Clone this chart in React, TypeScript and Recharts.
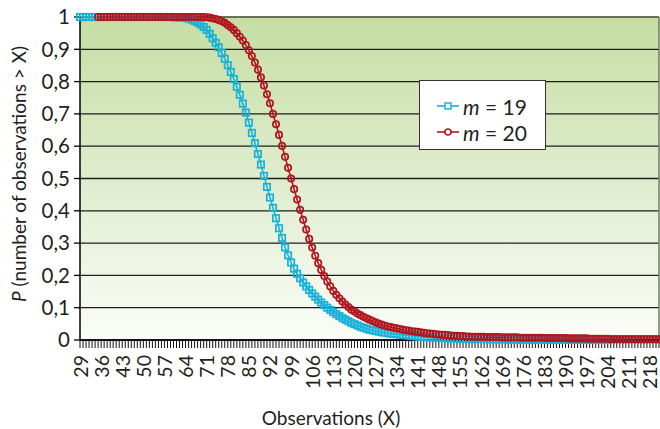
import React from 'react'
import {
  LineChart,
  Line,
  XAxis,
  YAxis,
  CartesianGrid,
  ReferenceLine,
  Legend,
} from 'recharts'

// Observations X, one category per integer from 29 to 221
const FIRST_X = 29
const LAST_X = 221
const CATEGORIES = Array.from({ length: LAST_X - FIRST_X + 1 }, (_, i) => FIRST_X + i)

const M19 = [
  1, 1, 1, 1, 1, 1, 1, 1, 1, 1, // 29-38
  1, 1, 1, 1, 1, 1, 1, 1, 1, 1, // 39-48
  1, 1, 1, 1, 1, 1, 1, 1, 1, 1, // 49-58
  1, 0.999, 0.999, 0.999, 0.998, 0.997, 0.995, 0.992, 0.988, 0.983, // 59-68
  0.977, 0.969, 0.96, 0.948, 0.934, 0.92, 0.906, 0.889, 0.871, 0.851, // 69-78
  0.83, 0.808, 0.784, 0.759, 0.732, 0.704, 0.673, 0.641, 0.609, 0.576, // 79-88
  0.543, 0.508, 0.474, 0.441, 0.409, 0.377, 0.346, 0.316, 0.287, 0.262, // 89-98
  0.24, 0.221, 0.205, 0.191, 0.178, 0.166, 0.155, 0.144, 0.134, 0.125, // 99-108
  0.116, 0.108, 0.1, 0.093, 0.086, 0.08, 0.074, 0.068, 0.063, 0.058, // 109-118
  0.053, 0.049, 0.045, 0.041, 0.038, 0.035, 0.032, 0.03, 0.028, 0.026, // 119-128
  0.024, 0.023, 0.021, 0.02, 0.019, 0.018, 0.017, 0.016, 0.015, 0.014, // 129-138
  0.013, 0.012, 0.011, 0.01, 0.009, 0.009, 0.008, 0.008, 0.007, 0.007, // 139-148
  0.006, 0.006, 0.005, 0.005, 0.005, 0.004, 0.004, 0.004, 0.004, 0.003, // 149-158
  0.003, 0.003, 0.003, 0.003, 0.003, 0.003, 0.002, 0.002, 0.002, 0.002, // 159-168
  0.002, 0.002, 0.001, 0.001, 0.001, 0.001, 0.001, 0.001, 0.001, 0.001, // 169-178
  0.001, 0.001, 0.001, 0.001, 0.001, 0.001, 0.001, 0.001, 0.001, 0.001, // 179-188
  0.001, 0.001, 0.001, 0.001, 0.001, 0.001, 0.001, 0.001, 0.001, 0.001, // 189-198
  0.001, 0.001, 0.001, 0.001, 0.001, 0.001, 0.003, 0.003, 0.003, 0.003, // 199-208
  0.003, 0.003, 0.003, 0.003, 0.003, 0.003, 0.003, 0.003, 0.003, 0.003, // 209-218
  0.003, 0.003, 0.003, // 219-221
]

const M20 = [
  null, null, null, null, null, null, 1, 1, 1, 1, // 29-38
  1, 1, 1, 1, 1, 1, 1, 1, 1, 1, // 39-48
  1, 1, 1, 1, 1, 1, 1, 1, 1, 1, // 49-58
  1, 1, 1, 1, 1, 1, 1, 1, 1, 1, // 59-68
  1, 1, 0.999, 0.998, 0.996, 0.994, 0.991, 0.987, 0.982, 0.975, // 69-78
  0.968, 0.96, 0.95, 0.939, 0.927, 0.913, 0.897, 0.879, 0.859, 0.837, // 79-88
  0.813, 0.788, 0.761, 0.733, 0.7, 0.668, 0.635, 0.601, 0.567, 0.533, // 89-98
  0.5, 0.467, 0.435, 0.403, 0.372, 0.342, 0.313, 0.286, 0.261, 0.238, // 99-108
  0.217, 0.198, 0.181, 0.166, 0.152, 0.14, 0.129, 0.119, 0.11, 0.102, // 109-118
  0.094, 0.088, 0.082, 0.077, 0.072, 0.067, 0.063, 0.059, 0.055, 0.051, // 119-128
  0.048, 0.045, 0.042, 0.04, 0.038, 0.036, 0.034, 0.032, 0.03, 0.029, // 129-138
  0.027, 0.026, 0.025, 0.024, 0.022, 0.021, 0.02, 0.019, 0.018, 0.017, // 139-148
  0.016, 0.016, 0.015, 0.014, 0.013, 0.013, 0.012, 0.012, 0.011, 0.011, // 149-158
  0.01, 0.01, 0.01, 0.01, 0.01, 0.009, 0.009, 0.009, 0.009, 0.009, // 159-168
  0.008, 0.008, 0.008, 0.008, 0.008, 0.008, 0.007, 0.007, 0.007, 0.007, // 169-178
  0.007, 0.007, 0.007, 0.007, 0.006, 0.006, 0.006, 0.006, 0.006, 0.006, // 179-188
  0.006, 0.006, 0.005, 0.005, 0.005, 0.005, 0.005, 0.005, 0.005, 0.004, // 189-198
  0.004, 0.004, 0.004, 0.004, 0.004, 0.004, 0.002, 0.002, 0.002, 0.002, // 199-208
  0.002, 0.002, 0.002, 0.002, 0.002, 0.002, 0.002, 0.002, 0.002, 0.002, // 209-218
  0.002, 0.002, 0.002, // 219-221
]

const Y_TICKS = [0, 0.1, 0.2, 0.3, 0.4, 0.5, 0.6, 0.7, 0.8, 0.9, 1]
const LABEL_STEP = 7

const SERIES = [
  { key: 'm19', label: '19', color: '#18b2d9', shape: 'square' },
  { key: 'm20', label: '20', color: '#b2161f', shape: 'circle' },
]

const FONT = 'Lato, "Open Sans", sans-serif'
const TEXT = '#231f20'

const data = CATEGORIES.map((x, i) => ({ x, m19: M19[i], m20: M20[i] }))

function makeDot(shape: string, color: string) {
  return (p: any) => {
    const { cx, cy, index, value } = p
    if (value == null || cy == null || isNaN(cy)) return <g key={`e-${index}`} />
    if (shape === 'square') {
      return (
        <rect key={`s-${index}`} x={cx - 3.2} y={cy - 3.2} width={6.4} height={6.4}
          fill="none" stroke={color} strokeWidth={1.7} />
      )
    }
    return <circle key={`c-${index}`} cx={cx} cy={cy} r={3.2} fill="none" stroke={color} strokeWidth={1.7} />
  }
}

function XTick(props: any) {
  const { x, payload } = props
  const v = Number(payload.value)
  if ((v - FIRST_X) % LABEL_STEP !== 0) return <g />
  const y = 355
  return (
    <text
      x={x}
      y={y}
      transform={`rotate(-90 ${x} ${y})`}
      textAnchor="end"
      dominantBaseline="central"
      fontFamily={FONT}
      fontSize={19.5}
      fill={TEXT}
    >
      {v}
    </text>
  )
}

function LegendBox() {
  return (
    <div
      style={{
        width: 127,
        height: 70,
        boxSizing: 'border-box',
        background: '#fff',
        border: '1.5px solid #333',
        paddingTop: 12,
        paddingLeft: 17,
        fontFamily: FONT,
        fontSize: 21,
        color: TEXT,
      }}
    >
      {SERIES.map((s) => (
        <div key={s.key} style={{ display: 'flex', alignItems: 'center', height: 26 }}>
          <svg width={22} height={12} style={{ marginRight: 4 }}>
            <line x1={0} y1={6} x2={22} y2={6} stroke={s.color} strokeWidth={1.6} />
            {s.shape === 'square' ? (
              <rect x={8} y={3} width={6} height={6} fill="#fff" stroke={s.color} strokeWidth={1.5} />
            ) : (
              <circle cx={11} cy={6} r={3} fill="#fff" stroke={s.color} strokeWidth={1.5} />
            )}
          </svg>
          <span style={{ whiteSpace: 'nowrap' }}>
            <i>m</i> = {s.label}
          </span>
        </div>
      ))}
    </div>
  )
}

export default function App() {
  return (
    <div style={{ position: 'absolute', left: 0, top: 0, width: 660, height: 429, background: '#fff' }}>
      <svg width={0} height={0} style={{ position: 'absolute' }}>
        <defs>
          <linearGradient id="plotBg" x1="0" y1="0" x2="0" y2="1">
            <stop offset="0%" stopColor="#c6dea3" />
            <stop offset="50%" stopColor="#dfecce" />
            <stop offset="100%" stopColor="#fbfdf8" />
          </linearGradient>
        </defs>
      </svg>
      <LineChart width={660} height={429} data={data} margin={{ top: 17, right: 1, left: 0, bottom: 0 }}>
        <CartesianGrid vertical={false} stroke="#1e1e1e" strokeWidth={1.3} fill="url(#plotBg)" />
        <XAxis
          dataKey="x"
          type="category"
          interval={0}
          height={89}
          tickSize={8}
          tickLine={{ stroke: '#111', strokeWidth: 1 }}
          axisLine={{ stroke: '#000', strokeWidth: 1.5 }}
          tick={<XTick />}
          label={() => (
            <text x={331} y={417} textAnchor="middle" dominantBaseline="central"
              fontFamily={FONT} fontSize={19} fill={TEXT}>
              Observations (X)
            </text>
          )}
        />
        <YAxis
          type="number"
          domain={[0, 1]}
          ticks={Y_TICKS}
          width={80}
          tickSize={6}
          tickMargin={4}
          interval={0}
          tick={{ fontFamily: FONT, fontSize: 20.5, fill: TEXT }}
          tickLine={{ stroke: '#000', strokeWidth: 1.3 }}
          axisLine={{ stroke: '#000', strokeWidth: 1.5 }}
          tickFormatter={(v: number) => String(v).replace('.', ',')}
          label={() => (
            <text x={18} y={174} transform="rotate(-90 18 174)" textAnchor="middle"
              dominantBaseline="central" fontFamily={FONT} fontSize={19} fill={TEXT}>
              <tspan fontStyle="italic">P</tspan> (number of observations &gt; X)
            </text>
          )}
        />
        <ReferenceLine y={1} stroke="#6f7c5c" strokeWidth={1.5} />
        <ReferenceLine x={LAST_X} stroke="#6f7c5c" strokeWidth={1.5} />
        <Legend
          layout="vertical"
          align="center"
          verticalAlign="middle"
          content={() => <LegendBox />}
          wrapperStyle={{ left: 419, top: 80, width: 127, height: 70 }}
        />
        {SERIES.map((s) => (
          <Line
            key={s.key}
            dataKey={s.key}
            type="linear"
            stroke={s.color}
            strokeWidth={1.6}
            dot={makeDot(s.shape, s.color)}
            activeDot={false}
            isAnimationActive={false}
          />
        ))}
      </LineChart>
    </div>
  )
}
